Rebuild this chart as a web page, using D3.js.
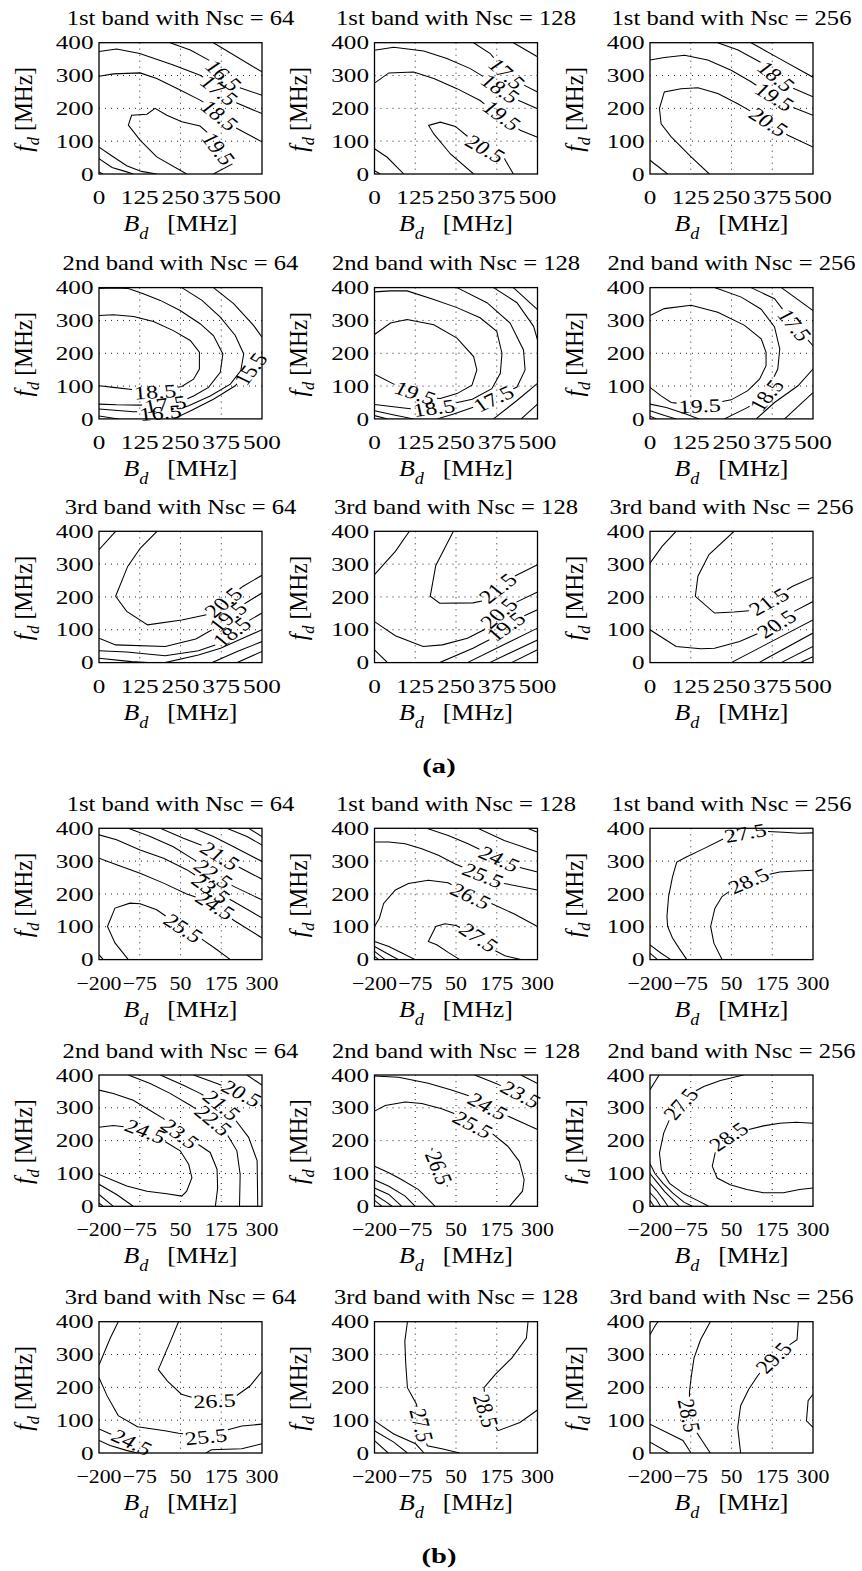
<!DOCTYPE html>
<html>
<head>
<meta charset="utf-8">
<script src="https://cdn.jsdelivr.net/npm/d3@7"></script>
<style>
  html, body { margin: 0; padding: 0; background: #fff; }
  svg { display: block; }
</style>
</head>
<body>
<svg id="fig" width="862" height="1571"></svg>
<script>
// ---- axes, ticks and panel captions ----
const bands = ["1st", "2nd", "3rd"];
const nscValues = [64, 128, 256];
const yTicks = [0, 100, 200, 300, 400];
const xTicksA = [0, 125, 250, 375, 500];
const xTicksB = [-200, -75, 50, 175, 300];
const partNames = ["(a)", "(b)"];

// ---- contour lines: [level, index of labelled vertex (-1 = no label), [[Bd, fd], ...]] ----
// part (a), Bd in [0, 500] MHz
const a_1st_64 = [
  [15.5, -1, [[351,400],[500,311]]],
  [16.5, 3, [[218,400],[280,378],[346,342],[382,301],[428,264],[500,240]]],
  [17.5, 6, [[0,373],[54,381],[125,367],[228,332],[310,301],[345,280],[369,255],[423,216],[500,184]]],
  [18.5, 7, [[0,298],[44,305],[126,308],[177,291],[249,256],[310,225],[341,207],[370,179],[413,144],[500,98]]],
  [19.5, 11, [[269,0],[177,52],[126,103],[90,149],[100,179],[147,182],[172,200],[208,179],[254,159],[310,146],[331,128],[367,77],[408,30],[351,0]]],
  [18.5, -1, [[0,82],[40,55],[85,25],[130,8],[177,0]]],
  [17.5, -1, [[0,47],[40,20],[80,8],[105,0]]],
  [16.5, -1, [[0,6],[12,0]]]
];
const a_1st_128 = [
  [16.5, -1, [[426,400],[500,357]]],
  [17.5, 2, [[304,400],[355,367],[406,306],[460,270],[500,250]]],
  [18.5, 6, [[0,377],[59,386],[151,375],[222,352],[294,321],[345,290],[386,260],[440,225],[500,199]]],
  [19.5, 7, [[0,277],[44,308],[120,311],[182,291],[253,260],[324,224],[355,200],[391,178],[447,133],[500,112]]],
  [20.5, 7, [[304,0],[233,61],[182,122],[166,148],[202,158],[248,145],[285,115],[340,77],[396,51],[426,0]]],
  [19.5, -1, [[0,77],[39,51],[90,0]]],
  [18.5, -1, [[0,10],[18,0]]]
];
const a_1st_256 = [
  [17.5, -1, [[310,400],[400,350],[500,295]]],
  [18.5, 3, [[208,400],[270,378],[340,340],[387,298],[430,265],[500,235]]],
  [19.5, 7, [[0,347],[44,355],[106,362],[177,347],[249,316],[310,281],[345,258],[382,235],[433,205],[500,179]]],
  [20.5, 11, [[182,0],[126,52],[65,113],[34,153],[29,200],[44,250],[95,260],[147,263],[208,245],[269,214],[320,185],[364,159],[423,118],[500,82]]],
  [19.5, -1, [[0,42],[54,0]]]
];
const a_2nd_64 = [
  [18.5, 11, [[0,315],[44,317],[106,312],[167,297],[228,269],[280,239],[308,203],[308,152],[290,121],[254,99],[213,91],[172,83],[106,89],[44,96],[0,101]]],
  [17.5, 13, [[0,397],[44,399],[90,397],[136,381],[188,361],[249,330],[310,290],[351,254],[380,198],[372,142],[336,96],[290,70],[249,52],[203,45],[126,42],[54,43],[0,45]]],
  [16.5, 10, [[254,400],[316,361],[372,310],[418,254],[444,198],[435,147],[403,106],[341,70],[275,40],[230,25],[188,19],[106,22],[0,30]]],
  [15.5, -1, [[351,400],[413,351],[474,285],[500,249]]],
  [15.5, 1, [[500,205],[464,152],[418,101],[351,60],[280,24],[228,0]]],
  [15.5, -1, [[0,9],[60,0]]]
];
const a_2nd_128 = [
  [19.5, 11, [[0,257],[49,292],[100,303],[182,287],[253,246],[304,190],[314,149],[299,103],[253,77],[202,62],[160,66],[125,79],[59,106],[0,136]]],
  [18.5, 11, [[0,387],[49,390],[100,390],[182,364],[253,339],[324,308],[375,267],[391,200],[386,139],[360,92],[300,60],[182,34],[110,31],[0,44]]],
  [17.5, 6, [[253,400],[345,354],[416,292],[457,210],[462,149],[437,97],[365,62],[304,36],[243,15],[192,0]]],
  [16.5, -1, [[365,400],[437,354],[488,282],[500,241]]],
  [16.5, -1, [[500,108],[437,56],[365,0]]],
  [15.5, -1, [[426,400],[500,333]]],
  [15.5, -1, [[500,45],[450,0]]],
  [17.5, -1, [[0,25],[60,12],[120,0]]],
  [16.5, -1, [[0,10],[40,0]]]
];
const a_2nd_256 = [
  [19.5, 11, [[0,315],[44,336],[126,346],[208,325],[290,285],[341,244],[356,203],[356,162],[336,121],[300,86],[249,58],[152,40],[65,50],[34,70],[0,96]]],
  [18.5, 7, [[198,400],[280,371],[341,334],[382,280],[398,213],[392,152],[372,111],[357,72],[300,35],[228,0]]],
  [17.5, 2, [[310,400],[382,366],[444,286],[500,223]]],
  [17.5, -1, [[500,152],[454,101],[382,50],[326,0]]],
  [16.5, -1, [[403,400],[500,330]]],
  [16.5, -1, [[500,80],[413,0]]],
  [18.5, -1, [[0,45],[50,35],[110,15],[150,0]]],
  [17.5, -1, [[0,25],[45,10],[80,0]]],
  [16.5, -1, [[0,8],[20,0]]]
];
const a_3rd_64 = [
  [21.5, -1, [[0,344],[51,400]]],
  [20.5, 8, [[178,400],[127,349],[88,293],[51,202],[85,156],[149,115],[254,130],[331,146],[381,184],[441,232],[500,266]]],
  [19.5, 5, [[0,74],[51,54],[203,49],[297,72],[347,100],[395,140],[449,181],[500,212]]],
  [18.5, 5, [[0,36],[85,32],[203,21],[305,36],[364,56],[407,93],[458,127],[500,151]]],
  [17.5, -1, [[0,13],[100,3],[150,0]]],
  [17.5, -1, [[203,0],[305,23],[373,44],[441,74],[500,100]]],
  [16.5, -1, [[347,0],[424,34],[500,64]]],
  [15.5, -1, [[424,0],[500,34]]]
];
const a_3rd_128 = [
  [22.5, -1, [[0,268],[64,339],[107,400]]],
  [21.5, 6, [[242,400],[188,296],[171,202],[200,181],[302,182],[344,191],[378,227],[429,263],[500,298]]],
  [20.5, 6, [[0,125],[64,82],[149,49],[208,54],[285,74],[336,100],[381,151],[437,185],[500,215]]],
  [19.5, 3, [[200,0],[302,44],[361,74],[403,110],[454,140],[500,161]]],
  [18.5, -1, [[285,0],[500,105]]],
  [17.5, -1, [[353,0],[500,69]]],
  [16.5, -1, [[420,0],[500,39]]],
  [20.5, -1, [[0,39],[40,0]]]
];
const a_3rd_256 = [
  [22.5, -1, [[0,303],[37,354],[80,400]]],
  [21.5, 7, [[258,400],[181,329],[147,263],[139,202],[198,151],[258,154],[303,158],[364,186],[436,232],[500,260]]],
  [20.5, 6, [[0,100],[80,49],[156,42],[198,44],[275,64],[330,88],[388,118],[440,155],[500,186]]],
  [19.5, -1, [[249,0],[500,130]]],
  [18.5, -1, [[334,0],[500,90]]],
  [17.5, -1, [[402,0],[500,49]]],
  [16.5, -1, [[461,0],[500,18]]]
];

// part (b), Bd in [-200, 300] MHz
const b_1st_64 = [
  [18.5, -1, [[259,400],[300,375]]],
  [19.5, -1, [[192,400],[254,375],[300,349]]],
  [20.5, -1, [[90,400],[151,375],[213,344],[300,299]]],
  [21.5, 3, [[-12,400],[59,370],[121,346],[172,316],[213,290],[300,245]]],
  [22.5, 4, [[-110,400],[-43,375],[28,344],[100,299],[151,261],[213,223],[300,182]]],
  [23.5, 6, [[-200,380],[-146,365],[-74,334],[-2,309],[69,274],[110,248],[144,216],[213,177],[300,127]]],
  [24.5, 6, [[-200,309],[-146,289],[-74,263],[-2,233],[69,200],[115,185],[157,165],[213,120],[300,66]]],
  [25.5, 8, [[-110,0],[-151,51],[-174,101],[-151,157],[-105,172],[-74,170],[-23,152],[13,127],[59,96],[110,66],[162,30],[203,0]]],
  [24.5, -1, [[-200,15],[-187,0]]]
];
const b_1st_128 = [
  [22.5, -1, [[269,400],[300,388]]],
  [23.5, -1, [[117,400],[198,363],[300,328]]],
  [24.5, 4, [[-40,400],[26,378],[87,353],[133,331],[183,307],[249,280],[300,267]]],
  [25.5, 7, [[-200,358],[-156,358],[-106,353],[-55,338],[-4,318],[46,292],[82,277],[133,257],[198,232],[300,212]]],
  [26.5, 7, [[-200,101],[-185,126],[-172,171],[-136,212],[-96,232],[-35,242],[26,234],[95,194],[148,176],[229,139],[300,101]]],
  [27.5, 7, [[62,0],[26,22],[-9,45],[-35,55],[-12,101],[16,109],[50,104],[120,68],[165,30],[200,12],[249,0]]],
  [25.5, -1, [[-200,55],[-156,40],[-116,20],[-75,0]]],
  [24.5, -1, [[-200,40],[-146,10],[-126,0]]],
  [23.5, -1, [[-200,25],[-167,0]]],
  [22.5, -1, [[-200,10],[-187,0]]]
];
const b_1st_256 = [
  [27.5, 4, [[300,386],[259,385],[209,388],[153,391],[92,386],[26,368],[-35,338],[-90,312],[-118,297],[-131,252],[-143,192],[-148,131],[-146,101],[-131,66],[-111,35],[-87,0]]],
  [28.5, 4, [[300,272],[249,270],[198,267],[153,257],[102,240],[57,217],[21,192],[-1,156],[-14,101],[-4,50],[21,0]]],
  [26.5, -1, [[-200,45],[-167,20],[-136,0]]],
  [25.5, -1, [[-200,20],[-177,0]]]
];
const b_2nd_64 = [
  [24.5, 3, [[-200,241],[-156,246],[-115,241],[-57,229],[-2,200],[49,169],[75,128],[85,87],[69,46],[54,31],[8,38],[-53,46],[-115,62],[-200,97]]],
  [23.5, 5, [[-200,354],[-156,344],[-95,323],[-43,292],[-2,267],[49,221],[95,195],[141,164],[162,113],[164,56],[157,0]]],
  [22.5, 4, [[-110,400],[-43,374],[18,344],[80,308],[151,262],[192,221],[223,169],[233,97],[231,0]]],
  [21.5, 3, [[-12,400],[59,369],[110,344],[177,308],[213,270],[259,210],[285,139],[287,0]]],
  [20.5, 2, [[90,400],[162,374],[238,344],[300,305]]],
  [19.5, -1, [[254,400],[300,369]]],
  [23.5, -1, [[-200,67],[-146,36],[-95,0]]],
  [22.5, -1, [[-200,36],[-156,0]]],
  [21.5, -1, [[-200,10],[-187,0]]]
];
const b_2nd_128 = [
  [22.5, -1, [[249,400],[300,374]]],
  [23.5, 2, [[107,400],[173,374],[249,341],[300,310]]],
  [24.5, 5, [[-200,397],[-126,393],[-35,375],[36,354],[92,336],[148,305],[209,275],[300,234]]],
  [25.5, 6, [[-200,290],[-167,307],[-106,318],[-55,313],[6,297],[51,280],[102,249],[158,224],[209,183],[244,137],[259,81],[254,46],[214,0]]],
  [26.5, 2, [[-23,178],[-25,165],[-2,117],[20,68],[24,60]]],
  [24.5, -1, [[-200,122],[-156,102],[-116,81],[-65,51],[-14,0]]],
  [23.5, -1, [[-200,81],[-156,61],[-106,31],[-75,0]]],
  [22.5, -1, [[-200,56],[-156,36],[-116,0]]],
  [21.5, -1, [[-200,36],[-167,15],[-146,0]]],
  [20.5, -1, [[-200,18],[-177,0]]]
];
const b_2nd_256 = [
  [26.5, -1, [[-200,355],[-172,400]]],
  [27.5, 4, [[87,400],[16,383],[-35,365],[-70,346],[-106,312],[-136,274],[-158,223],[-171,162],[-165,110],[-140,70],[-96,38],[-55,18],[-20,0]]],
  [28.5, 5, [[300,253],[249,256],[198,253],[148,245],[92,231],[41,213],[3,177],[-9,122],[6,86],[46,66],[97,51],[148,41],[209,41],[259,51],[300,56]]],
  [26.5, -1, [[-200,130],[-185,100],[-160,70],[-130,40],[-95,12],[-70,0]]],
  [25.5, -1, [[-200,100],[-180,75],[-155,45],[-125,15],[-110,0]]],
  [24.5, -1, [[-200,70],[-180,48],[-160,22],[-145,0]]],
  [23.5, -1, [[-200,42],[-180,20],[-168,0]]],
  [22.5, -1, [[-200,18],[-188,0]]]
];
const b_3rd_64 = [
  [27.5, -1, [[-200,268],[-166,349],[-141,400]]],
  [26.5, 6, [[44,400],[19,340],[-18,254],[10,219],[53,179],[90,168],[154,159],[221,174],[263,204],[300,249]]],
  [25.5, 6, [[-200,229],[-175,174],[-141,114],[-82,80],[2,68],[44,60],[128,50],[191,70],[238,82],[300,88]]],
  [24.5, 2, [[-200,73],[-170,60],[-99,33],[-52,8],[-40,0]]],
  [25.5, -1, [[128,0],[145,10],[238,13],[300,28]]],
  [23.5, -1, [[-200,38],[-166,23],[-116,8],[-82,0]]]
];
const b_3rd_128 = [
  [27.5, 5, [[-99,400],[-107,340],[-104,269],[-99,199],[-72,150],[-55,85],[-38,22],[10,12],[61,0]]],
  [28.5, 5, [[271,400],[266,350],[221,289],[170,239],[136,199],[142,129],[179,68],[246,93],[300,131]]],
  [26.5, -1, [[-200,98],[-141,58],[-74,28],[-48,0]]],
  [25.5, -1, [[-200,68],[-141,33],[-99,0]]],
  [24.5, -1, [[-200,38],[-158,0]]]
];
const b_3rd_256 = [
  [27.5, -1, [[-200,360],[-183,390],[-175,400]]],
  [28.5, 5, [[-15,400],[-45,345],[-65,289],[-74,229],[-79,184],[-79,114],[-57,63],[-15,0]]],
  [29.5, 3, [[255,400],[251,345],[229,330],[179,290],[133,239],[103,194],[78,144],[69,78],[78,0]]],
  [29.5, -1, [[300,179],[285,159],[280,98],[300,78]]],
  [27.5, -1, [[-200,88],[-99,38],[-74,0]]],
  [26.5, -1, [[-200,33],[-141,0]]]
];

const partA = [[a_1st_64, a_1st_128, a_1st_256], [a_2nd_64, a_2nd_128, a_2nd_256], [a_3rd_64, a_3rd_128, a_3rd_256]];
const partB = [[b_1st_64, b_1st_128, b_1st_256], [b_2nd_64, b_2nd_128, b_2nd_256], [b_3rd_64, b_3rd_128, b_3rd_256]];

// ---- layout ----
const SERIF = "'Liberation Serif','Times New Roman',serif";
const PW = 163, PH = 131.3;
const colLeft = [99, 374.5, 650];
const rowTopA = [42.7, 287.6, 531.3];
const rowTopB = [828.3, 1075, 1321.7];
const LABEL_SX = 1.27;   // horizontal widening used for contour labels

const svg = d3.select("#fig");
const defs = svg.append("defs");
svg.append("rect").attr("width", 862).attr("height", 1571).attr("fill", "#fff");

function txt(parent, x, y, s, o = {}) {
  const t = parent.append("text")
    .attr("transform", `translate(${x},${y}) scale(${o.sx || 1},1)` + (o.rot ? ` rotate(${o.rot})` : ""))
    .attr("font-family", SERIF)
    .attr("font-size", o.size || 19.7)
    .attr("text-anchor", o.anchor || "middle")
    .attr("fill", "#000");
  if (o.weight) t.attr("font-weight", o.weight);
  if (o.dy) t.attr("dy", o.dy);
  if (s !== null) t.text(s);
  return t;
}

const fmtTick = d => d < 0 ? "\u2212" + (-d) : String(d);

function pathPieces(P, li, hw) {
  const cum = [0];
  for (let i = 1; i < P.length; i++) cum.push(cum[i - 1] + Math.hypot(P[i][0] - P[i - 1][0], P[i][1] - P[i - 1][1]));
  const total = cum[cum.length - 1], s0 = cum[li];
  const at = s => {
    let i = 0;
    while (i < P.length - 2 && cum[i + 1] < s) i++;
    const t = (s - cum[i]) / ((cum[i + 1] - cum[i]) || 1);
    return [P[i][0] + t * (P[i + 1][0] - P[i][0]), P[i][1] + t * (P[i + 1][1] - P[i][1])];
  };
  const A = [], B = [];
  if (s0 - hw > 0) {
    for (let i = 0; i < P.length && cum[i] < s0 - hw; i++) A.push(P[i]);
    A.push(at(s0 - hw));
  }
  if (s0 + hw < total) {
    B.push(at(s0 + hw));
    for (let i = 0; i < P.length; i++) if (cum[i] > s0 + hw) B.push(P[i]);
  }
  return { A, B, at, s0 };
}

function drawPanel(x0, y0, xDomain, xTicks, contours, title, id, tickSX) {
  const x = d3.scaleLinear().domain(xDomain).range([x0, x0 + PW]);
  const y = d3.scaleLinear().domain([0, 400]).range([y0 + PH, y0]);
  const g = svg.append("g");

  defs.append("clipPath").attr("id", id)
    .append("rect").attr("x", x0).attr("y", y0).attr("width", PW).attr("height", PH);

  // dotted grid
  const grid = g.append("g").attr("stroke", "#222").attr("stroke-width", 1)
    .attr("stroke-dasharray", "1,5");
  grid.selectAll("line.gx").data(xTicks.slice(1, -1)).join("line")
    .attr("x1", d => x(d)).attr("x2", d => x(d)).attr("y1", y0).attr("y2", y0 + PH);
  grid.selectAll("line.gy").data(yTicks.slice(1, -1)).join("line")
    .attr("x1", x0).attr("x2", x0 + PW).attr("y1", d => y(d)).attr("y2", d => y(d));

  // contour lines with inline labels
  const cg = g.append("g").attr("clip-path", `url(#${id})`)
    .attr("fill", "none").attr("stroke", "#000").attr("stroke-width", 1.05);
  const line = d3.line();
  const lg = g.append("g");
  contours.forEach(([v, li, pts]) => {
    const P = pts.map(p => [x(p[0]), y(p[1])]);
    if (li < 0) { cg.append("path").attr("d", line(P)); return; }
    const t = txt(lg, 0, 0, v.toFixed(1), { size: 19, dy: "0.35em" });
    const w = t.node().getComputedTextLength();
    // direction of the chord spanned by the label
    const { at, s0 } = pathPieces(P, li, 0);
    const a = at(Math.max(s0 - w * 0.6, 0)), b = at(s0 + w * 0.6);
    let th = Math.atan2(b[1] - a[1], (b[0] - a[0]) / LABEL_SX) * 180 / Math.PI;
    if (th > 90) th -= 180;
    if (th <= -90) th += 180;
    const r = th * Math.PI / 180;
    const f = Math.hypot(LABEL_SX * Math.cos(r), Math.sin(r));
    const hw = w * f / 2 + 2;
    const pc = pathPieces(P, li, hw);
    if (pc.A.length > 1) cg.append("path").attr("d", line(pc.A));
    if (pc.B.length > 1) cg.append("path").attr("d", line(pc.B));
    t.attr("transform", `translate(${P[li][0]},${P[li][1]}) scale(${LABEL_SX},1) rotate(${th})`);
  });

  // frame
  g.append("rect").attr("x", x0).attr("y", y0).attr("width", PW).attr("height", PH)
    .attr("fill", "none").attr("stroke", "#000").attr("stroke-width", 1.3);

  // tick labels
  yTicks.forEach(d => txt(g, x0 - 5.5, y(d) + 6.6, fmtTick(d), { anchor: "end", sx: 1.28 }));
  xTicks.forEach(d => txt(g, x(d), y0 + PH + 30, fmtTick(d), { sx: tickSX }));

  // title
  txt(g, x0 + PW / 2, y0 - 17.3, title, { size: 20.5, sx: 1.2 });

  // x axis label: B_d [MHz]
  const xl = txt(g, x0 + PW / 2, y0 + PH + 57, null, { size: 23.5, sx: 1.1 });
  xl.append("tspan").attr("font-style", "italic").text("B");
  xl.append("tspan").attr("font-style", "italic").attr("font-size", 16.5).attr("dy", 8).text("d");
  xl.append("tspan").attr("dy", -8).attr("dx", 17).text("[MHz]");

  // y axis label: f_d [MHz]
  const yl = txt(g, x0 - 67.5, y0 + PH / 2 + 1, null, { size: 23.5, sx: 1.06, rot: -90 });
  yl.append("tspan").attr("font-style", "italic").text("f");
  yl.append("tspan").attr("font-style", "italic").attr("font-size", 16.5).attr("dy", 7).text("d");
  yl.append("tspan").attr("dy", -7).attr("dx", 6).text("[MHz]");
}

[[partA, rowTopA, [0, 500], xTicksA, "a", 1.28], [partB, rowTopB, [-200, 300], xTicksB, "b", 1.11]]
  .forEach(([part, tops, dom, ticks, key, tsx]) => {
    part.forEach((row, ri) => row.forEach((contours, ci) => {
      drawPanel(colLeft[ci], tops[ri], dom, ticks, contours,
        `${bands[ri]} band with Nsc = ${nscValues[ci]}`, `clip-${key}-${ri}-${ci}`, tsx);
    }));
  });

// sub-figure captions
txt(svg, 439, 773, partNames[0], { size: 22, sx: 1.3, weight: "bold" });
txt(svg, 439, 1563, partNames[1], { size: 22, sx: 1.3, weight: "bold" });
</script>
</body>
</html>
